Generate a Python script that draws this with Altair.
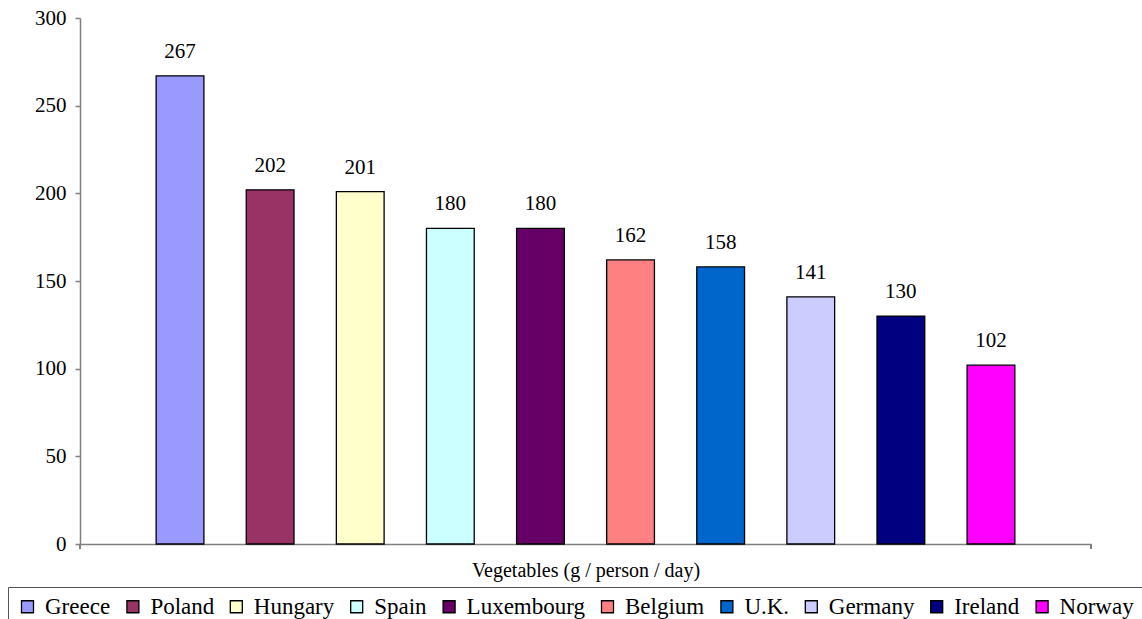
import altair as alt
import pandas as pd

# Daily vegetable supply per country
countries = ["Greece", "Poland", "Hungary", "Spain", "Luxembourg",
             "Belgium", "U.K.", "Germany", "Ireland", "Norway"]
values = [267, 202, 201, 180, 180, 162, 158, 141, 130, 102]
colors = ["#9999FF", "#993366", "#FFFFCC", "#CCFFFF", "#660066",
          "#FF8080", "#0066CC", "#CCCCFF", "#000080", "#FF00FF"]
y_ticks = [0, 50, 100, 150, 200, 250, 300]
x_title = "Vegetables (g / person / day)"

df = pd.DataFrame({"country": countries, "value": values})

FONT = "Liberation Serif, Times New Roman, serif"
W, H = 1011, 526
AXIS_GREY = "#808080"

x_enc = alt.X(
    "country:N",
    sort=countries,
    scale=alt.Scale(paddingInner=0.47, paddingOuter=0.845),
    axis=alt.Axis(
        title=x_title, labels=False, ticks=False, domain=True,
        domainColor=AXIS_GREY, domainWidth=1.5,
        titleFont=FONT, titleFontSize=20, titleFontWeight="normal",
        titleColor="black", titlePadding=16,
    ),
)
y_enc = alt.Y(
    "value:Q",
    scale=alt.Scale(domain=[0, 300], nice=False),
    axis=alt.Axis(
        title=None, values=y_ticks, grid=False,
        domainColor=AXIS_GREY, domainWidth=1.5,
        tickColor=AXIS_GREY, tickSize=5, tickWidth=1.5,
        labelFont=FONT, labelFontSize=21, labelColor="black", labelPadding=9,
    ),
)

base = alt.Chart(df)

bars = base.mark_bar(stroke="black", strokeWidth=1.3).encode(
    x=x_enc,
    y=y_enc,
    color=alt.Color(
        "country:N",
        sort=countries,
        scale=alt.Scale(domain=countries, range=colors),
        legend=alt.Legend(
            title=None, orient="none", direction="horizontal", columns=10,
            legendX=-72, legendY=569,
            symbolType="square", symbolSize=144, symbolStrokeColor="black",
            symbolStrokeWidth=1.3, symbolOpacity=1,
            labelFont=FONT, labelFontSize=23, labelColor="black",
            labelOffset=6, columnPadding=10.4,
            padding=8, strokeColor="#555555", fillColor="white",
        ),
    ),
)

labels = base.mark_text(
    font=FONT, fontSize=21, color="black", baseline="alphabetic", dy=-18
).encode(
    x=alt.X("country:N", sort=countries),
    y=alt.Y("value:Q"),
    text=alt.Text("value:Q"),
)

# small end ticks on the category axis
tick_left = alt.Chart(df).mark_rule(color=AXIS_GREY, strokeWidth=1.5).encode(
    x=alt.value(0), y=alt.value(H), y2=alt.value(H + 5)
)
tick_right = alt.Chart(df).mark_rule(color=AXIS_GREY, strokeWidth=1.5).encode(
    x=alt.value(W), y=alt.value(H), y2=alt.value(H + 5)
)

chart = alt.layer(bars, labels, tick_left, tick_right).properties(
    width=W, height=H,
    padding={"left": 80, "top": 18, "right": 51, "bottom": 75},
    autosize=alt.AutoSizeParams(type="none"),
    background="white",
).configure_view(stroke=None)

chart.save("out.html", embed_options={"renderer": "svg", "actions": False})
